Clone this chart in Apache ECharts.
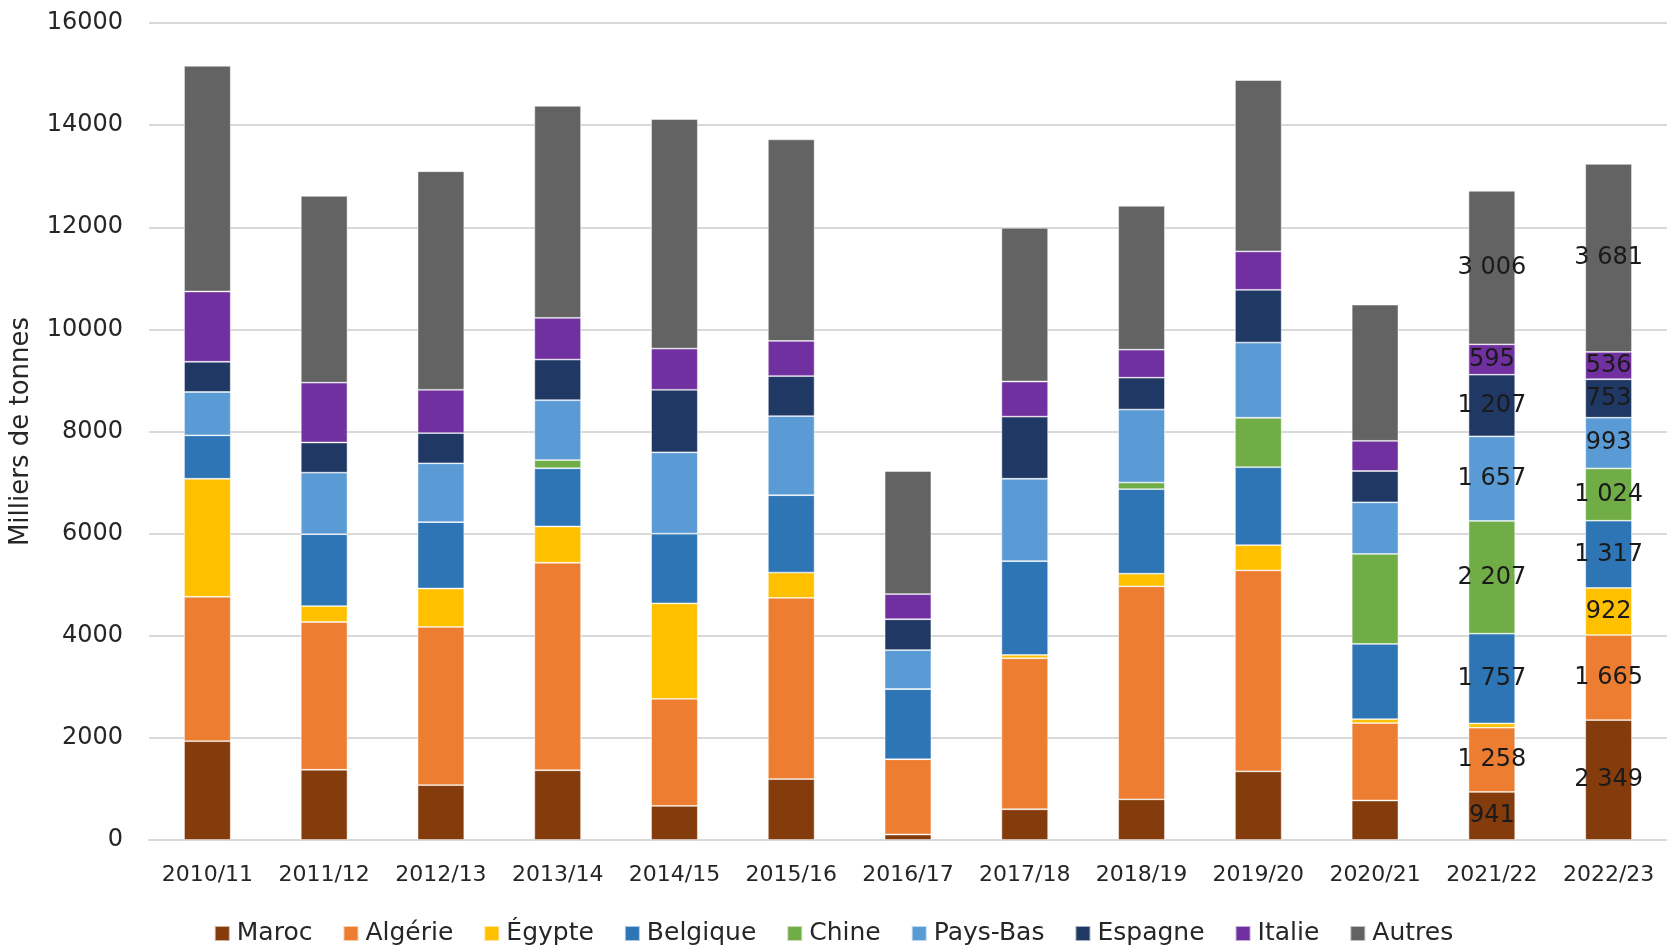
<!DOCTYPE html>
<html>
<head>
<meta charset="utf-8">
<script src="https://cdn.jsdelivr.net/npm/echarts@6/dist/echarts.min.js"></script>
<style>
    html, body { margin: 0; padding: 0; background: #fff; }
    #chart { width: 1667px; height: 945px; }
</style>
</head>
<body>
<div id="chart"></div>
<script>
    // campagnes
    var campagnes = ['2010/11', '2011/12', '2012/13', '2013/14', '2014/15', '2015/16', '2016/17',
        '2017/18', '2018/19', '2019/20', '2020/21', '2021/22', '2022/23'];

    // milliers de tonnes, par destination
    var maroc    = [1935, 1376, 1075, 1366, 667, 1194, 108, 602, 796, 1344, 774, 941, 2349];
    var algerie  = [2829, 2893, 3097, 4064, 2097, 3548, 1473, 2957, 4172, 3936, 1516, 1258, 1665];
    var egypte   = [2311, 312, 753, 710, 1870, 495, 0, 65, 247, 494, 76, 85, 922];
    var belgique = [850, 1408, 1301, 1140, 1366, 1516, 1376, 1838, 1656, 1527, 1473, 1757, 1317];
    var chine    = [0, 0, 0, 161, 0, 0, 0, 0, 129, 968, 1763, 2207, 1024];
    var paysBas  = [849, 1205, 1151, 1172, 1592, 1548, 763, 1613, 1430, 1473, 1011, 1657, 993];
    var espagne  = [592, 591, 591, 796, 1225, 785, 603, 1216, 624, 1032, 613, 1207, 753];
    var italie   = [1376, 1172, 849, 817, 807, 688, 494, 688, 548, 753, 591, 595, 536];
    var autres   = [4420, 3656, 4280, 4151, 4495, 3947, 2409, 3010, 2817, 3355, 2667, 3006, 3681];

    var yTicks = [0, 2000, 4000, 6000, 8000, 10000, 12000, 14000, 16000];

    var font = '"DejaVu Sans", sans-serif';
    var myChart = echarts.init(document.getElementById('chart'));

    // libellés seulement sur les deux dernières campagnes
    function fmt(v) {
        return String(v).replace(/\B(?=(\d{3})+(?!\d))/g, ' ');
    }
    function makeSerie(name, data, color) {
        return {
            name: name,
            type: 'bar',
            stack: 'total',
            barWidth: '40%',
            data: data,
            itemStyle: {
                color: color,
                borderColor: 'rgba(255,255,255,0.6)',
                borderWidth: 0.8
            },
            label: {
                show: true,
                position: 'inside',
                color: '#1a1a1a',
                fontFamily: font,
                fontSize: 24,
                formatter: function (p) {
                    return (p.dataIndex >= 11 && p.value > 200) ? fmt(p.value) : '';
                }
            }
        };
    }

    var options = {
        animation: false,
        textStyle: { fontFamily: font },
        grid: {
            left: 149,
            right: 0,
            top: 23,
            bottom: 105
        },
        legend: {
            top: 916,
            left: 'center',
            itemWidth: 15,
            itemHeight: 15,
            itemGap: 30,
            icon: 'rect',
            textStyle: {
                fontFamily: font,
                fontSize: 25,
                color: '#262626',
                padding: [0, 0, 0, 2]
            }
        },
        xAxis: {
            type: 'category',
            data: campagnes,
            axisTick: { show: false },
            axisLine: { lineStyle: { color: '#d9d9d9', width: 2 } },
            axisLabel: {
                interval: 0,
                color: '#262626',
                fontSize: 22,
                margin: 24
            }
        },
        yAxis: {
            type: 'value',
            min: yTicks[0],
            max: yTicks[yTicks.length - 1],
            interval: 2000,
            name: 'Milliers de tonnes',
            nameLocation: 'middle',
            nameGap: 115,
            nameTextStyle: {
                color: '#262626',
                fontSize: 26
            },
            axisLabel: {
                color: '#262626',
                fontSize: 24,
                margin: 26,
                formatter: function (v) { return String(v); }
            },
            splitLine: {
                lineStyle: { color: '#d9d9d9', width: 2 }
            }
        },
        series: [
            makeSerie('Maroc', maroc, '#843C0C'),
            makeSerie('Algérie', algerie, '#ED7D31'),
            makeSerie('Égypte', egypte, '#FFC000'),
            makeSerie('Belgique', belgique, '#2E75B6'),
            makeSerie('Chine', chine, '#70AD47'),
            makeSerie('Pays-Bas', paysBas, '#5B9BD5'),
            makeSerie('Espagne', espagne, '#203864'),
            makeSerie('Italie', italie, '#7030A0'),
            makeSerie('Autres', autres, '#636363')
        ]
    };
    myChart.setOption(options);
</script>
</body>
</html>
